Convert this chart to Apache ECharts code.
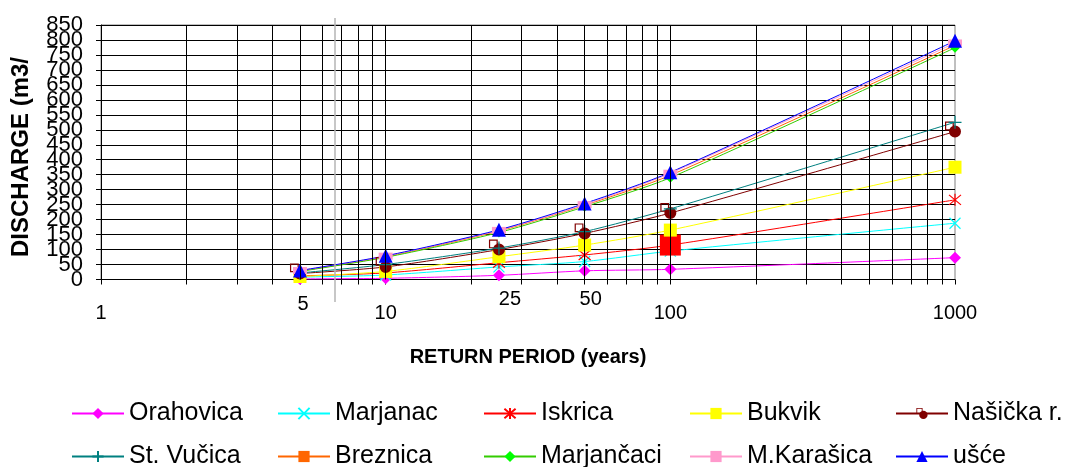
<!DOCTYPE html>
<html><head><meta charset="utf-8">
<script src="https://cdn.jsdelivr.net/npm/echarts@6/dist/echarts.min.js"></script>
<style>html,body{margin:0;padding:0;background:#fff}#c{width:1067px;height:467px}</style>
</head><body><div id="c"></div>
<script>
// ---- data ----
const periods = [5, 10, 25, 50, 100, 1000];
const orahovica  = [2, 4, 14, 29, 34, 73];
const marjanac   = [8, 15, 42, 60, 95, 188];
const iskrica    = [12, 22, 56, 82, 115, 266];
const bukvik     = [10, 27, 76, 115, 165, 375];
const nasicka    = [20, 42, 100, 154, 222, 494];
const stVucica   = [22, 50, 105, 160, 236, 525];
const breznica   = [28, 76, 162, 248, 348, 782];
const marjancaci = [27, 74, 157, 243, 340, 774];
const mKarasica  = [30, 78, 164, 250, 355, 790];
const usce       = [30, 79, 166, 254, 358, 797];
const seriesNames = ['Orahovica','Marjanac','Iskrica','Bukvik','Našička r.','St. Vučica','Breznica','Marjančaci','M.Karašica','ušće'];
const xLabelValues = [1, 5, 10, 25, 50, 100, 1000];
const xTickValues = [1,2,3,4,5,6,7,8,9,10,20,30,40,50,60,70,80,90,100,200,300,400,500,600,700,800,900,1000];
const xGridValues = [2,3,4,5,6,7,8,9,10,20,30,40,50,60,70,80,90,100,200,300,400,500,600,700,800,900];
const yTickLabels = [0,50,100,150,200,250,300,350,400,450,500,550,600,650,700,750,800,850];
const yTitle = 'DISCHARGE (m3/';
const xTitle = 'RETURN PERIOD (years)';

const FONT = 'Liberation Sans, Arial, sans-serif';
const pts = vals => periods.map((p, i) => [p, vals[i]]);

function mk(name, vals, color, lineColor, symbol, size, opts) {
  opts = opts || {};
  return Object.assign({
    name: name, type: 'line', z: 3,
    data: pts(vals),
    smooth: 0.25,
    symbol: symbol, symbolSize: size,
    showAllSymbol: true,
    lineStyle: { color: lineColor, width: 1 },
    itemStyle: { color: color, borderColor: color, borderWidth: opts.bw || 0, opacity: 1 },
    emphasis: { disabled: true }
  }, opts.extra || {});
}

const X_PATH = 'path://M0,0L10,10M10,0L0,10';
const STAR_PATH = 'path://M0,0L10,10M10,0L0,10M5,-1L5,11';
const PLUS_PATH = 'path://M0,5L10,5M5,0L5,10';
const NAS_PATH = 'path://M0,0L11,0L11,11L0,11ZM1.5,1.5L1.5,9.5L9.5,9.5L9.5,1.5ZM5,12.5A7.5,7.5,0,1,1,20,12.5A7.5,7.5,0,1,1,5,12.5Z';

const iskricaSeries = mk('Iskrica', iskrica, '#FF0000', '#FF0000', STAR_PATH, 12, { bw: 1.2 });
iskricaSeries.data[4] = { value: [periods[4], iskrica[4]], symbol: 'rect', symbolSize: 21,
  itemStyle: { color: '#FF0000', borderWidth: 0 } };

const series = [
  { name: '_grid', type: 'line', data: [], z: 1, silent: true,
    markLine: { silent: true, symbol: 'none', animation: false, label: { show: false },
      lineStyle: { color: '#000', width: 1, type: 'solid' },
      emphasis: { disabled: true },
      data: xGridValues.map(v => ({ xAxis: v })) } },
  mk('Orahovica', orahovica, '#FF00FF', '#FF00FF', 'diamond', 12),
  mk('Marjanac', marjanac, '#00FFFF', '#00FFFF', X_PATH, 11, { bw: 1.2 }),
  iskricaSeries,
  mk('Bukvik', bukvik, '#FFFF00', '#FFFF00', 'rect', 13),
  Object.assign(mk('Našička r.', nasicka, '#800000', '#800000', NAS_PATH, 16), { symbolKeepAspect: true, symbolOffset: [-2, -2] }),
  mk('St. Vučica', stVucica, '#008080', '#008080', PLUS_PATH, 13, { bw: 1.2 }),
  mk('Breznica', breznica, '#FF6600', '#FF6600', 'rect', [8, 5]),
  mk('Marjančaci', marjancaci, '#00FF00', '#33CC00', 'diamond', 10),
  mk('M.Karašica', mKarasica, '#FF99CC', '#FF99CC', 'rect', [14, 7]),
  mk('ušće', usce, '#0000FF', '#0000FF', 'triangle', 14)
];

function legendRow(names, top) {
  return {
    data: names, left: 71, top: top, width: 1200, orient: 'horizontal',
    itemWidth: 52, itemHeight: 14, itemGap: 0, padding: 0,
    selectedMode: false,
    formatter: n => '{t|' + n + '}',
    textStyle: { color: '#000', fontFamily: FONT, fontSize: 25,
      rich: { t: { width: 148, fontSize: 25, fontFamily: FONT, color: '#000', lineHeight: 26 } } }
  };
}

function yAx(labels, primary) {
  return {
    type: 'value', min: 0, max: 850, interval: 50, position: 'left', offset: 0,
    axisLine: { show: primary, lineStyle: { color: '#000', width: 1 } },
    axisTick: { show: primary, length: 5, inside: false, lineStyle: { color: '#000' } },
    splitLine: { show: primary, lineStyle: { color: '#000', width: 1 } },
    axisLabel: { show: true, margin: 18, fontFamily: FONT, fontSize: 22, color: '#000', hideOverlap: false,
      customValues: labels, showMinLabel: true, showMaxLabel: true }
  };
}

const chart = echarts.init(document.getElementById('c'), null, { renderer: 'canvas' });
chart.setOption({
  animation: false,
  backgroundColor: '#fff',
  grid: { left: 101, right: 112, top: 25, bottom: 187.5, show: true, borderColor: '#808080', borderWidth: 1,
          outerBoundsMode: 'none', containLabel: false },
  xAxis: {
    type: 'log', logBase: 10, min: 1, max: 1000,
    name: xTitle, nameLocation: 'middle', nameGap: 68,
    nameTextStyle: { fontFamily: FONT, fontWeight: 'bold', fontSize: 20, color: '#000' },
    axisLine: { show: true, lineStyle: { color: '#000', width: 1 } },
    axisTick: { show: true, length: 5, inside: false, customValues: xTickValues, lineStyle: { color: '#000' } },
    splitLine: { show: false },
    minorTick: { show: false },
    axisLabel: {
      show: true, customValues: xLabelValues, margin: 10, hideOverlap: false,
      fontFamily: FONT, fontSize: 20, color: '#000',
      formatter: v => {
        const r = Math.round(v);
        if (r === 5) return '{f|5}';
        if (r === 25) return '{a|25}';
        if (r === 50) return '{b|50}';
        return '{n|' + r + '}';
      },
      rich: {
        n: { fontFamily: FONT, fontSize: 20, color: '#000', padding: [14, 0, 0, 0] },
        f: { fontFamily: FONT, fontSize: 20, color: '#000', padding: [5, 0, 0, 6] },
        a: { fontFamily: FONT, fontSize: 20, color: '#000', padding: [0, 0, 0, 22] },
        b: { fontFamily: FONT, fontSize: 20, color: '#000', padding: [0, 0, 0, 12] }
      }
    }
  },
  yAxis: [
    yAx(yTickLabels.filter((v, i) => i % 2 === 0), true),
    yAx(yTickLabels.filter((v, i) => i % 2 === 1), false)
  ],
  legend: [ legendRow(seriesNames.slice(0, 5), 401), legendRow(seriesNames.slice(5), 444) ],
  graphic: [
    { type: 'line', silent: true, z: 100, shape: { x1: 335, y1: 18, x2: 335, y2: 302 },
      style: { stroke: '#b4b4b4', lineWidth: 1.5 } },
    { type: 'text', silent: true, x: 33, y: 257, rotation: Math.PI / 2,
      style: { text: yTitle, fontFamily: FONT, fontWeight: 'bold', fontSize: 24, fill: '#000',
               align: 'left', verticalAlign: 'bottom' } }
  ],
  series: series
});
</script></body></html>
